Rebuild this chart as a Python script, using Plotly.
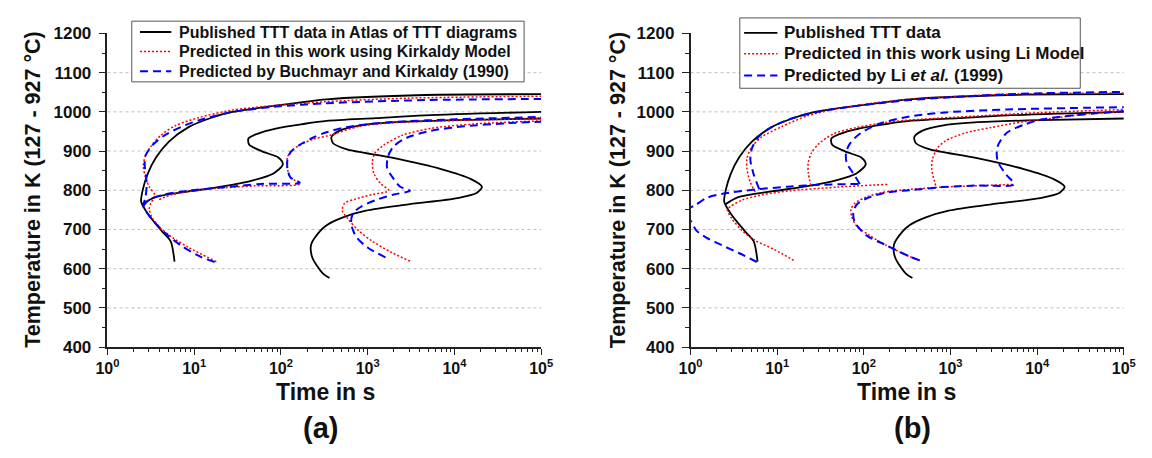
import plotly.graph_objects as go

# ---------------- Published TTT data (same steel in both panels) ----------------
pub_start_t = [5.93, 5.34, 4.30, 3.03, 2.51, 2.44, 2.55, 2.91, 3.61, 5.11, 8.60, 15.8, 26.6, 75.5, 336, 4540, 1e5]
pub_start_T = [618, 670, 694, 735, 764, 772, 801, 842, 883, 924, 961, 985, 999, 1014, 1032, 1043, 1045]

pub_mid_t = [2.51, 3.62, 8.6, 20.5, 48.9, 82, 105, 94, 60.7, 42.9, 42.2, 53.3, 89.7, 180, 336, 1240, 4540, 1e5]
pub_mid_T = [764, 783, 797, 809, 826, 843, 866, 883, 899, 917, 932, 944, 958, 969, 977, 984, 991, 1000]

pub_low_t = [363, 303, 229, 223, 277, 336, 519, 952, 2940, 10800, 18000, 20700, 15300, 7000, 1900,
             565, 399, 382, 475, 800, 1900, 10800, 1e5]
pub_low_T = [576, 588, 629, 662, 694, 711, 731, 748, 764, 780, 793, 809, 829, 854, 883,
             905, 920, 936, 952, 965, 973, 979, 983]

# ---------------- (a) Kirkaldy model, this work ----------------
kirk_start_t = [18.0, 8.6, 5.58, 3.94, 3.25, 3.03, 3.17, 3.55, 3.03, 2.73, 2.59, 2.73, 3.17, 4.11, 6.08,
                11.2, 26.6, 75.5, 336, 3000, 1e5]
kirk_start_T = [618, 654, 680, 707, 731, 752, 768, 785, 809, 834, 862, 887, 912, 940, 965,
                985, 1004, 1015, 1026, 1035, 1040]

kirk_mid_t = [3.94, 5.58, 13.3, 48.9, 165, 127, 118.5, 118.5, 129, 165, 233, 366, 800, 1900, 10800, 1e5]
kirk_mid_T = [776, 789, 802, 811, 816, 834, 858, 883, 899, 915, 930, 940, 963, 972, 978, 983]

kirk_low_t = [3070, 1900, 1130, 767, 591, 509, 541, 733, 1130, 1750, 1410, 1180, 1130, 1210, 1530,
              2480, 5400, 16700, 1e5]
kirk_low_T = [619, 641, 670, 699, 727, 748, 767, 778, 789, 799, 817, 842, 871, 895, 915,
              940, 958, 969, 977]

# ---------------- (a) Buchmayr and Kirkaldy (1990) ----------------
bk_start_t = [17.2, 12.2, 7.24, 4.69, 3.46, 2.91, 2.59, 2.73, 2.83, 2.78, 2.69, 2.73, 3.31, 4.69, 7.89,
              13.3, 26.6, 75.5, 336, 4540, 1e5]
bk_start_T = [617, 629, 657, 690, 719, 740, 760, 780, 809, 838, 862, 887, 915, 942, 966,
              983, 999, 1012, 1022, 1030, 1033]

bk_mid_t = [2.59, 3.03, 4.3, 8.6, 20.5, 58.2, 165, 129, 119, 119, 129, 165, 233, 336, 565, 1900, 10800, 1e5]
bk_mid_T = [760, 776, 788, 799, 807, 816, 819, 832, 854, 879, 897, 916, 934, 948, 961, 974, 981, 987]

bk_low_t = [1600, 995, 733, 644, 673, 836, 1240, 1990, 3070, 2370, 1990, 1670, 1720, 1990, 2820,
            5400, 12900, 39800, 1e5]
bk_low_T = [629, 654, 682, 715, 740, 758, 775, 789, 799, 809, 829, 858, 887, 912, 934,
            952, 963, 971, 975]

# ---------------- (b) Li model, this work ----------------
li_bs_t = [15.5, 9.4, 5.58, 3.94, 3.03, 2.66, 2.91, 3.94, 6.62, 13.3, 48.9, 188]
li_bs_T = [621, 648, 672, 697, 726, 751, 759, 775, 788, 798, 808, 815]

li_fs_t = [5.58, 4.9, 4.48, 4.48, 5.11, 6.62, 11.2, 22.4, 48.9, 127, 336, 4540, 1e5]
li_fs_T = [796, 820, 854, 882, 911, 936, 962, 990, 1008, 1022, 1032, 1045, 1048]

li_ff1_t = [24.4, 22.8, 22.8, 24.8, 30.3, 44.8, 82.3, 180, 336, 1900, 10800, 1e5]
li_ff1_T = [812, 845, 870, 895, 919, 944, 960, 973, 979, 989, 998, 1006]

li_bf_t = [440, 336, 180, 116, 82.3, 72.2, 71, 78.7, 107, 180, 336, 800, 5400]
li_bf_T = [621, 631, 660, 685, 709, 734, 751, 767, 783, 796, 802, 808, 815]

li_ff2_t = [673, 607, 617, 702, 873, 1470, 2940, 7000, 16700, 39800, 1e5]
li_ff2_T = [812, 854, 878, 907, 926, 946, 960, 975, 985, 995, 1000]

# ---------------- (b) Li et al. (1999) ----------------
lj_bs_t = [5.82, 3.61, 2.34, 1.52, 1.17, 1.03, 0.9, 0.92, 1.12, 1.52, 2.34, 5.58, 13.3, 31.6, 89.7]
lj_bs_T = [617, 640, 659, 679, 697, 718, 740, 752, 761, 780, 791, 802, 809, 814, 816]

lj_ff1_t = [89.7, 78.7, 63.4, 62.3, 69, 89.7, 151, 336, 800, 4540, 1e5]
lj_ff1_T = [816, 837, 870, 895, 919, 944, 970, 988, 998, 1006, 1012]

lj_fs_t = [6.2, 5.34, 4.9, 5.11, 6.08, 7.89, 13.3, 26.6, 63.4, 151, 336, 4540, 1e5]
lj_fs_T = [803, 841, 878, 907, 936, 956, 980, 998, 1012, 1022, 1030, 1045, 1051]

lj_bf_t = [440, 336, 180, 107, 78.7, 75.5, 82.3, 107, 180, 336, 800, 1900, 5400,
           4350, 3500, 3440, 3810, 4540, 7000, 10800, 25800, 1e5]
lj_bf_T = [621, 631, 660, 685, 718, 742, 763, 779, 794, 800, 808, 812, 815,
           841, 874, 907, 928, 948, 967, 980, 991, 1002]

# ---------------- axis ticks and labels ----------------
x_tickvals = [1, 10, 100, 1000, 10000, 100000]
x_ticktext = ["10<sup>0</sup>", "10<sup>1</sup>", "10<sup>2</sup>", "10<sup>3</sup>",
              "10<sup>4</sup>", "10<sup>5</sup>"]
x_minor = [k * 10 ** d for d in range(5) for k in range(2, 10)]
y_tickvals = [400, 500, 600, 700, 800, 900, 1000, 1100, 1200]
y_grid = [500, 600, 700, 800, 900, 1000, 1100]

legend_a = ["Published TTT data in Atlas of TTT diagrams",
            "Predicted in this work using Kirkaldy Model",
            "Predicted by Buchmayr and Kirkaldy (1990)"]
legend_b = ["Published TTT data",
            "Predicted in this work using Li Model",
            "Predicted by Li <i>et al.</i> (1999)"]

FONT = "Liberation Sans, Arial, Helvetica, sans-serif"
STYLE = {
    "pub": dict(color="#000000", width=1.8, dash="solid"),
    "this": dict(color="#ff0000", width=1.5, dash="2px,2px"),
    "ref": dict(color="#0000ff", width=2.0, dash="8px,5px"),
}
STYLE_ORDER = ["pub", "this", "ref"]

W, H = 1152, 458
fig = go.Figure()


def curve(t, T, style, xa, ya):
    fig.add_trace(go.Scatter(
        x=t, y=T, mode="lines", xaxis=xa, yaxis=ya,
        line=dict(shape="spline", smoothing=0.8, **STYLE[style]),
        showlegend=False, hoverinfo="skip",
    ))


# panel (a)
curve(pub_start_t, pub_start_T, "pub", "x", "y")
curve(pub_mid_t, pub_mid_T, "pub", "x", "y")
curve(pub_low_t, pub_low_T, "pub", "x", "y")
curve(kirk_start_t, kirk_start_T, "this", "x", "y")
curve(kirk_mid_t, kirk_mid_T, "this", "x", "y")
curve(kirk_low_t, kirk_low_T, "this", "x", "y")
curve(bk_start_t, bk_start_T, "ref", "x", "y")
curve(bk_mid_t, bk_mid_T, "ref", "x", "y")
curve(bk_low_t, bk_low_T, "ref", "x", "y")

# panel (b)
curve(pub_start_t, pub_start_T, "pub", "x2", "y2")
curve(pub_mid_t, pub_mid_T, "pub", "x2", "y2")
curve(pub_low_t, pub_low_T, "pub", "x2", "y2")
curve(li_bs_t, li_bs_T, "this", "x2", "y2")
curve(li_fs_t, li_fs_T, "this", "x2", "y2")
curve(li_ff1_t, li_ff1_T, "this", "x2", "y2")
curve(li_bf_t, li_bf_T, "this", "x2", "y2")
curve(li_ff2_t, li_ff2_T, "this", "x2", "y2")
curve(lj_bs_t, lj_bs_T, "ref", "x2", "y2")
curve(lj_ff1_t, lj_ff1_T, "ref", "x2", "y2")
curve(lj_fs_t, lj_fs_T, "ref", "x2", "y2")
curve(lj_bf_t, lj_bf_T, "ref", "x2", "y2")

ydom = [(H - 352.7) / H, (H - 25.5) / H]

xaxis_common = dict(
    type="log", range=[0, 5], tickvals=x_tickvals, ticktext=x_ticktext,
    ticks="outside", ticklen=6, tickwidth=1.3, tickcolor="#222",
    showline=True, linecolor="#222", linewidth=1.5, showgrid=False, zeroline=False,
    tickfont=dict(family=FONT, size=16, color="#111", weight="bold"),
    minor=dict(tickvals=x_minor, ticks="outside", ticklen=3, tickwidth=1, tickcolor="#222", showgrid=False),
)
yaxis_common = dict(
    range=[400, 1200], tickvals=y_tickvals,
    ticks="outside", ticklen=7, tickwidth=1.3, tickcolor="#222", ticklabelstandoff=4,
    showline=True, linecolor="#222", linewidth=1.5, showgrid=False, zeroline=False,
    tickfont=dict(family=FONT, size=17, color="#111", weight="bold"),
    minor=dict(dtick=50, ticks="outside", ticklen=4, tickwidth=1, tickcolor="#222", showgrid=False),
    domain=ydom,
)

fig.update_layout(
    width=W, height=H, margin=dict(l=0, r=0, t=0, b=0),
    paper_bgcolor="white", plot_bgcolor="white", showlegend=False,
    xaxis=dict(domain=[97.5 / W, 540.5 / W], anchor="y", **xaxis_common),
    yaxis=dict(anchor="x", **yaxis_common),
    xaxis2=dict(domain=[693 / W, 1135.5 / W], anchor="y2", **xaxis_common),
    yaxis2=dict(anchor="x2", **yaxis_common),
)

# dotted horizontal gridlines
for xa, ya in (("x", "y"), ("x2", "y2")):
    for g in y_grid:
        fig.add_shape(type="line", xref=f"{xa} domain", yref=ya, x0=0, x1=1, y0=g, y1=g,
                      line=dict(color="#bdbdbd", width=1, dash="dot"), layer="below")


def px_x(v):
    return v / W


def px_y(v):
    return 1 - v / H


# legend boxes: (box left, top, right, bottom), row centres, sample span, text start, font size
legend_layout = [
    (legend_a, (122.3, 12.7, 523, 76), (24, 44.3, 65), (130.7, 162.7), 168.3, 16),
    (legend_b, (743.3, 9.3, 1091, 82.7), (25, 46.7, 69.3), (747.7, 781.7), 786.7, 17),
]
for labels, (bx0, by0, bx1, by1), rows, (lx0, lx1), tx, fs in legend_layout:
    fig.add_shape(type="rect", xref="paper", yref="paper",
                  x0=px_x(bx0), x1=px_x(bx1), y0=px_y(by1), y1=px_y(by0),
                  line=dict(color="#555", width=1), fillcolor="white", layer="above")
    for label, ry, key in zip(labels, rows, STYLE_ORDER):
        fig.add_shape(type="line", xref="paper", yref="paper",
                      x0=px_x(lx0), x1=px_x(lx1), y0=px_y(ry), y1=px_y(ry),
                      line=STYLE[key], layer="above")
        fig.add_annotation(text=label, x=px_x(tx), y=px_y(ry), xref="paper", yref="paper",
                           showarrow=False, xanchor="left", yanchor="middle",
                           font=dict(family=FONT, size=fs, color="#111", weight="bold"))

title_font = dict(family=FONT, size=21.5, color="#111", weight="bold")
for xc in (22, 619):
    fig.add_annotation(text="Temperature in K (127 - 927 °C)", textangle=-90,
                       x=px_x(xc), y=(ydom[0] + ydom[1]) / 2, xref="paper", yref="paper",
                       showarrow=False, font=title_font, xanchor="center", yanchor="middle")
for xc in (320, 914):
    fig.add_annotation(text="Time in s", x=px_x(xc), y=px_y(400), xref="paper", yref="paper",
                       showarrow=False, font=dict(family=FONT, size=23, color="#111", weight="bold"),
                       xanchor="center", yanchor="middle")
for xc, lab in ((315, "(a)"), (920, "(b)")):
    fig.add_annotation(text=lab, x=px_x(xc), y=px_y(437), xref="paper", yref="paper",
                       showarrow=False, font=dict(family=FONT, size=29, color="#111", weight="bold"),
                       xanchor="center", yanchor="middle")

fig.write_html("out.html")
